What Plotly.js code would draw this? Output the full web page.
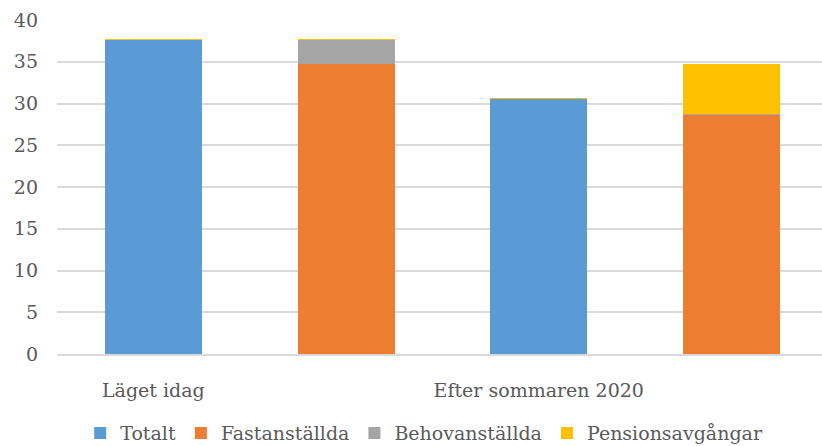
<!DOCTYPE html>
<html>
<head>
<meta charset="utf-8">
<script src="https://cdn.plot.ly/plotly-3.0.1.min.js"></script>
<style>html,body{margin:0;padding:0;background:#fff;}#chart{width:822px;height:446px;}</style>
</head>
<body>
<div id="chart"></div>
<script>
const positions = [0, 1, 2, 3];
const tickPositions = [0, 2];
const tickLabels = ["Läget idag", "Efter sommaren 2020"];
const totalt = [37.65, 0, 30.55, 0];
const fastanstallda = [0, 34.75, 0, 28.6];
const behovanstallda = [0, 2.9, 0, 0.15];
const pensionsavgangar = [0.08, 0.08, 0.13, 6.0];

const FONT = 'DejaVu Serif';

const mk = (name, y, color) => ({
  type: 'bar', name: name, x: positions, y: y,
  marker: {color: color, line: {width: 0}},
  hoverinfo: 'name+y'
});

const data = [
  mk('Totalt', totalt, '#5B9BD5'),
  mk('Fastanställda', fastanstallda, '#ED7D31'),
  mk('Behovanställda', behovanstallda, '#A5A5A5'),
  mk('Pensionsavgångar', pensionsavgangar, '#FFC000')
];

const layout = {
  width: 822, height: 446,
  margin: {l: 57, r: 0, t: 20, b: 92, autoexpand: false},
  barmode: 'stack',
  bargap: 0.497,
  paper_bgcolor: '#fff', plot_bgcolor: '#fff',
  font: {family: FONT, size: 19, color: '#595959'},
  showlegend: true,
  legend: {orientation: 'h', x: 0.48, xanchor: 'center', y: -0.237, yanchor: 'middle',
           font: {family: FONT, size: 19, color: '#595959'}, traceorder: 'normal', itemwidth: 30},
  xaxis: {range: [-0.5, 3.47], tickvals: tickPositions, ticktext: tickLabels,
          showgrid: false, zeroline: false, showline: true, linecolor: '#d9d9d9', linewidth: 2,
          ticks: '', ticklabelstandoff: 18, fixedrange: true},
  yaxis: {range: [0, 40], dtick: 5, showgrid: true, gridcolor: '#d9d9d9', gridwidth: 2,
          zeroline: false, showline: false, ticks: '', ticklabelstandoff: 18, fixedrange: true}
};

Plotly.newPlot('chart', data, layout, {displayModeBar: false, staticPlot: true});
</script>
</body>
</html>
